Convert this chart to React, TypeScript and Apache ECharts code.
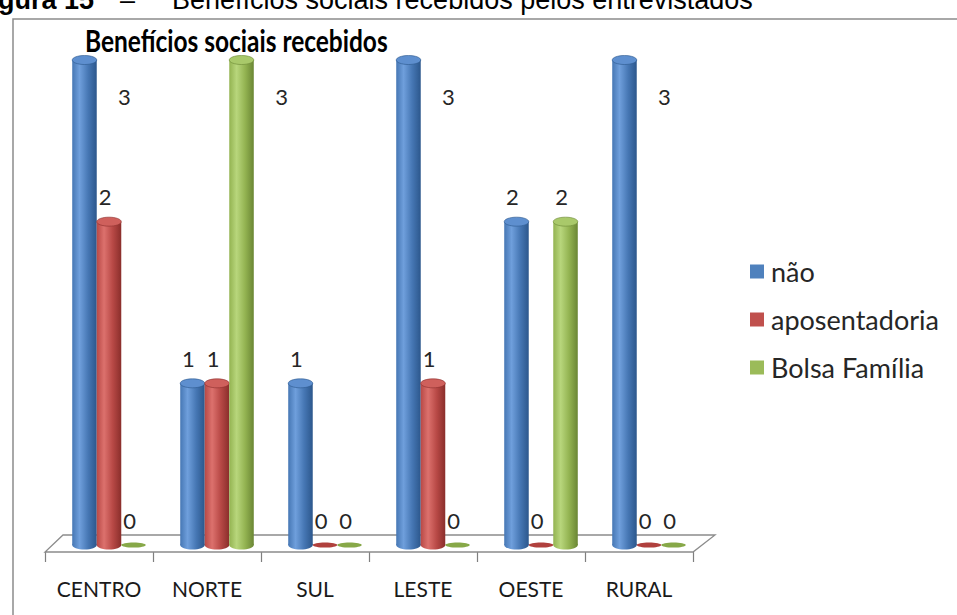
import React, { useEffect, useRef } from "react";
import * as echarts from "echarts";

const categories = ["CENTRO", "NORTE", "SUL", "LESTE", "OESTE", "RURAL"];
const seriesNames = ["não", "aposentadoria", "Bolsa Família"];
const naoValues = [3, 1, 1, 3, 2, 3];
const aposentadoriaValues = [2, 1, 0, 1, 0, 0];
const bolsaFamiliaValues = [0, 3, 0, 0, 2, 0];
const yMax = 3;

const palettes = [
  { base: "#4F81BD", dark: "#2c578c", mid: "#4677b4", light: "#6f9fdc", top: "#5e8fcf", flat: "#3e6fa8" },
  { base: "#C0504D", dark: "#8a2e2b", mid: "#b84946", light: "#dc716d", top: "#cf605c", flat: "#b0403d" },
  { base: "#9BBB59", dark: "#6a8634", mid: "#93b351", light: "#b8d67c", top: "#a9c96a", flat: "#87a848" },
];

const FONT = "Lato, 'Open Sans', sans-serif";
const ARIAL = "'Liberation Sans', Arial, sans-serif";

function makeRender(si: number) {
  return (params: any, api: any) => {
    const idx = api.value(0);
    const val = api.value(1);
    const base = api.coord([idx, 0]);
    const top = api.coord([idx, val]);
    const band = api.size([1, 0])[0];
    const w = band * 0.227;
    const cx = base[0] + (si - 1) * w;
    const ry = 4.5;
    const p = palettes[si];
    const children: any[] = [];
    if (val > 0) {
      const grad = new echarts.graphic.LinearGradient(0, 0, 1, 0, [
        { offset: 0, color: p.mid },
        { offset: 0.3, color: p.light },
        { offset: 0.65, color: p.mid },
        { offset: 1, color: p.dark },
      ]);
      children.push({ type: "ellipse", shape: { cx, cy: base[1], rx: w / 2, ry }, style: { fill: grad } });
      children.push({
        type: "rect",
        shape: { x: cx - w / 2, y: top[1], width: w, height: base[1] - top[1] },
        style: { fill: grad },
      });
      children.push({
        type: "ellipse",
        shape: { cx, cy: top[1], rx: w / 2, ry },
        style: { fill: p.top, stroke: p.dark, lineWidth: 0.6 },
      });
    } else {
      children.push({ type: "ellipse", shape: { cx, cy: base[1], rx: w / 2, ry: 2.6 }, style: { fill: p.flat } });
    }
    let lx: number, ly: number;
    if (val >= yMax) {
      lx = cx + 40;
      ly = top[1] + 36;
    } else {
      lx = cx - 4;
      ly = top[1] - 25;
    }
    children.push({
      type: "text",
      x: lx,
      y: ly,
      style: {
        text: String(val),
        fill: "#262626",
        fontSize: 22,
        fontFamily: FONT,
        align: "center",
        verticalAlign: "middle",
      },
    });
    return { type: "group", children };
  };
}

const seriesValues = [naoValues, aposentadoriaValues, bolsaFamiliaValues];

export default function App() {
  const ref = useRef<HTMLDivElement>(null);
  useEffect(() => {
    if (!ref.current) return;
    const chart = echarts.init(ref.current, undefined, { renderer: "svg" });
    const option: any = {
      animation: false,
      backgroundColor: "#ffffff",
      legend: {
        orient: "vertical",
        left: 745,
        top: 253,
        itemWidth: 14,
        itemHeight: 14,
        itemGap: 21,
        icon: "rect",
        data: seriesNames,
        textStyle: { fontSize: 27, fontFamily: FONT, color: "#262626", padding: [0, 0, 0, 2] },
      },
      grid: [
        { left: 55, right: 254, top: 60, bottom: 70 },
        { left: 45, right: 264, top: 500, bottom: 63 },
      ],
      xAxis: [
        { type: "category", data: categories, gridIndex: 0, show: false },
        {
          type: "category",
          data: categories,
          gridIndex: 1,
          axisLine: { show: false },
          axisTick: { show: true, interval: 0, length: 10, lineStyle: { color: "#7f7f7f", width: 1.2 } },
          axisLabel: { interval: 0, fontSize: 21, fontFamily: FONT, color: "#1a1a1a", margin: 26, hideOverlap: false },
        },
      ],
      yAxis: [
        { type: "value", min: 0, max: yMax, gridIndex: 0, show: false },
        { type: "value", gridIndex: 1, show: false },
      ],
      graphic: [
        {
          type: "rect",
          shape: { x: 13, y: 19, width: 1000, height: 700 },
          style: { fill: "none", stroke: "#8c8c8c", lineWidth: 1.5 },
          z: 0,
        },
        {
          type: "text",
          x: -26,
          y: 0,
          style: { text: "Figura 15", fontSize: 27, fontWeight: "bold", fontFamily: ARIAL, fill: "#000", verticalAlign: "middle" },
        },
        {
          type: "text",
          x: 120,
          y: 0,
          style: { text: "–", fontSize: 27, fontFamily: ARIAL, fill: "#000", verticalAlign: "middle" },
        },
        {
          type: "text",
          x: 172,
          y: 0,
          style: { text: "Benefícios sociais recebidos pelos entrevistados", fontSize: 27, fontFamily: ARIAL, fill: "#000", verticalAlign: "middle" },
        },
        {
          type: "text",
          x: 85,
          y: 24,
          scaleX: 0.79,
          style: { text: "Benefícios sociais recebidos", fontSize: 31, fontWeight: "bold", fontFamily: FONT, fill: "#000", verticalAlign: "top" },
        },
        {
          type: "polygon",
          shape: { points: [[45, 552], [693, 552], [715, 535], [63, 535]] },
          style: { fill: "#ffffff", stroke: "#8c8c8c", lineWidth: 1.3 },
          z: 1,
        },
      ],
      series: seriesNames.map((name, si) => ({
        type: "custom",
        name,
        xAxisIndex: 0,
        yAxisIndex: 0,
        z: 5,
        itemStyle: { color: palettes[si].base },
        renderItem: makeRender(si),
        data: seriesValues[si].map((v, i) => [i, v]),
        encode: { x: 0, y: 1 },
      })),
    };
    chart.setOption(option);
    return () => chart.dispose();
  }, []);
  return <div ref={ref} style={{ position: "absolute", left: 0, top: 0, width: 957, height: 615 }} />;
}
